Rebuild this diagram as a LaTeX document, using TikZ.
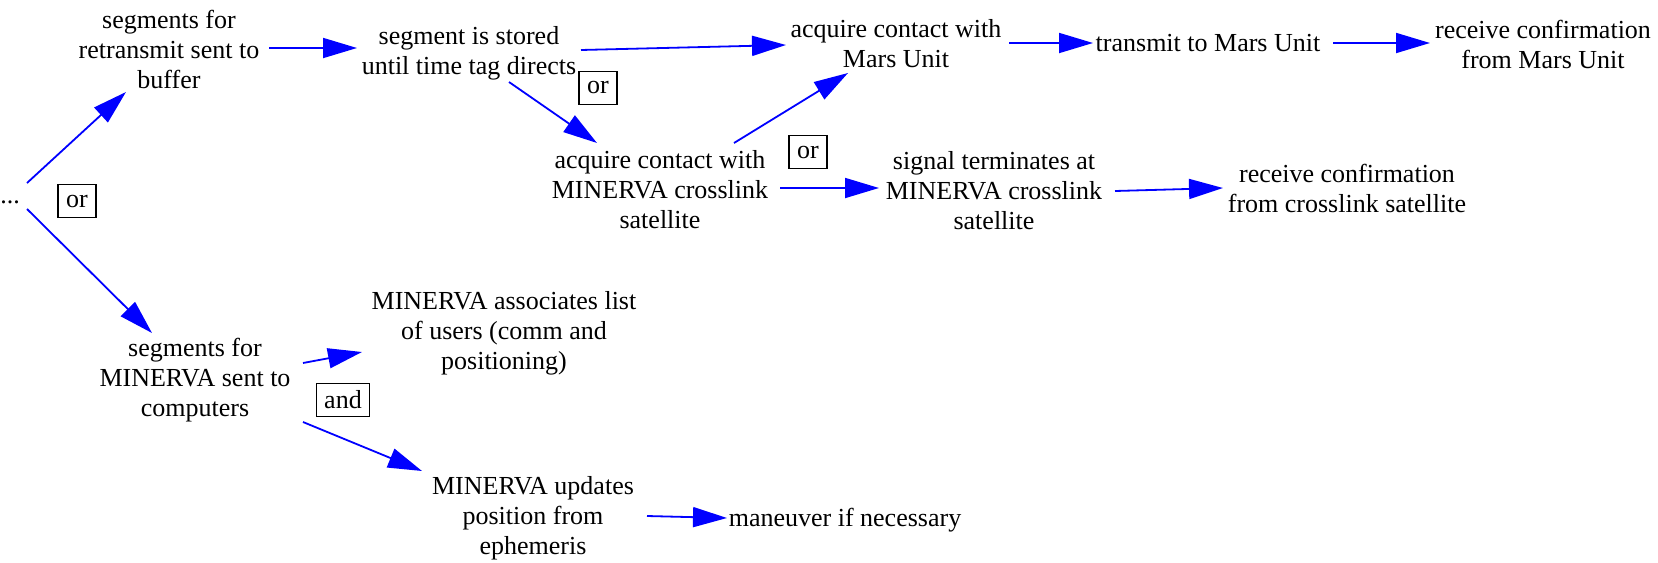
\documentclass[tikz,border=0pt]{standalone}
\usepackage{fontspec}
\setmainfont{Liberation Serif}
\newfontfamily\diagfont{Liberation Serif}
\usetikzlibrary{arrows.meta}
\tikzset{
  txt/.style={align=center, inner sep=0pt, font=\diagfont\fontsize{13}{15}\selectfont},
  opbox/.style={draw, line width=0.9pt, inner xsep=3.9pt, inner ysep=0pt, minimum height=16.5pt, font=\diagfont\fontsize{13}{15}\selectfont},
  arr/.style={draw=blue, line width=0.9pt, -{Triangle[length=17pt,width=10pt]}}
}
\begin{document}
\begin{tikzpicture}[x=0.5pt, y=-0.5pt]
\useasboundingbox (0,0) rectangle (1658,562);
\node[txt] (dots) at (10,202) {...};
\node[txt] (retrans) at (169,49) {segments for\\retransmit sent to\\buffer};
\node[txt] (stored) at (469,53) {segment is stored\\until time tag directs};
\node[txt] (acqmars) at (896,44) {acquire contact with\\Mars Unit};
\node[txt] (transmit) at (1208,43) {transmit to Mars Unit};
\node[txt] (recvmars) at (1543,44) {receive confirmation\\from Mars Unit};
\node[txt] (acqmin) at (660,190) {acquire contact with\\MINERVA crosslink\\satellite};
\node[txt] (signal) at (994,191) {signal terminates at\\MINERVA crosslink\\satellite};
\node[txt] (recvcross) at (1347,188) {receive confirmation\\from crosslink satellite};
\node[txt] (segmin) at (195,380) {segments for\\MINERVA sent to\\computers};
\node[txt] (assoc) at (504,333) {MINERVA associates list\\of users (comm and\\positioning)};
\node[txt] (updates) at (533,518) {MINERVA updates\\position from\\ephemeris};
\node[txt] (maneuver) at (845,520) {maneuver if necessary};

\node[opbox] (or1) at (77,201) {or};
\node[opbox] (or2) at (598,88) {or};
\node[opbox] (or3) at (808,152) {or};
\node[opbox] (and1) at (343,400) {and};

\draw[arr] ([shift={(17,-19)}]dots.center) -- ([shift={(-43,43)}]retrans.center);
\draw[arr] ([shift={(17,7)}]dots.center) -- ([shift={(-43,-47)}]segmin.center);
\draw[arr] ([shift={(100,-1)}]retrans.center) -- ([shift={(-112,-5)}]stored.center);
\draw[arr] ([shift={(112,-3)}]stored.center) -- ([shift={(-110,1)}]acqmars.center);
\draw[arr] ([shift={(40,29)}]stored.center) -- ([shift={(-63,-47)}]acqmin.center);
\draw[arr] ([shift={(74,-47)}]acqmin.center) -- ([shift={(-48,29)}]acqmars.center);
\draw[arr] ([shift={(120,-2)}]acqmin.center) -- ([shift={(-115,-3)}]signal.center);
\draw[arr] ([shift={(121,0)}]signal.center) -- ([shift={(-124,0)}]recvcross.center);
\draw[arr] ([shift={(113,-1)}]acqmars.center) -- ([shift={(-115,0)}]transmit.center);
\draw[arr] ([shift={(125,0)}]transmit.center) -- ([shift={(-113,-1)}]recvmars.center);
\draw[arr] ([shift={(108,-17)}]segmin.center) -- ([shift={(-142,19)}]assoc.center);
\draw[arr] ([shift={(108,42)}]segmin.center) -- ([shift={(-111,-47)}]updates.center);
\draw[arr] ([shift={(114,-2)}]updates.center) -- ([shift={(-118,-2)}]maneuver.center);
\end{tikzpicture}
\end{document}
